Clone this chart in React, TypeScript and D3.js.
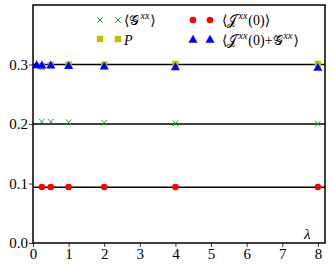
import { useEffect, useRef } from "react";
import * as d3 from "d3";

// lambda values where each quantity was measured
const LAMBDA = [0.25, 0.5, 1, 2, 4, 8];
const LAMBDA_TRI = [0.1, 0.25, 0.5, 1, 2, 4, 8];

const G_XX = [0.204, 0.204, 0.203, 0.202, 0.201, 0.2005];
const P_VAL = [0.296, 0.299, 0.3, 0.3, 0.301, 0.301];
const J_XX = [0.094, 0.094, 0.094, 0.094, 0.094, 0.094];
const J_PLUS_G = [0.3, 0.2995, 0.2995, 0.2985, 0.2975, 0.2965, 0.2955];

// horizontal reference levels
const REF_LEVELS = [0.3, 0.2, 0.0938];

const X_TICKS = [0, 1, 2, 3, 4, 5, 6, 7, 8];
const Y_TICKS = [0, 0.1, 0.2, 0.3];

const GREEN = "#1f9a1f";
const OLIVE = "#bfbf00";
const RED = "#ff0000";
const BLUE = "#0000ff";

const SERIF = "'Liberation Serif', 'DejaVu Serif', serif";

export default function App() {
  const ref = useRef<SVGSVGElement | null>(null);

  useEffect(() => {
    if (!ref.current) return;
    const W = 332, H = 265;
    const margin = { top: 5, right: 7, bottom: 22, left: 33 };
    const innerW = W - margin.left - margin.right;
    const innerH = H - margin.top - margin.bottom;

    const svg = d3.select(ref.current);
    svg.selectAll("*").remove();
    svg.attr("width", W).attr("height", H);

    const g = svg.append("g").attr("transform", `translate(${margin.left},${margin.top})`);

    const x = d3.scaleLinear().domain([0, 8.2]).range([0, innerW]);
    const y = d3.scaleLinear().domain([0, 0.4]).range([innerH, 0]);

    // reference lines
    for (const v of REF_LEVELS) {
      g.append("line")
        .attr("x1", 0).attr("x2", innerW)
        .attr("y1", y(v)).attr("y2", y(v))
        .attr("stroke", "#000").attr("stroke-width", 1.5);
    }

    // axes
    const xa = g.append("g").attr("transform", `translate(0,${innerH})`)
      .call(d3.axisBottom(x).tickValues(X_TICKS).tickFormat(d3.format("d")).tickSize(4).tickSizeOuter(0));
    const ya = g.append("g")
      .call(d3.axisLeft(y).tickValues(Y_TICKS).tickFormat(d3.format(".1f")).tickSize(4).tickSizeOuter(0));
    for (const a of [xa, ya]) {
      a.select(".domain").remove();
      a.selectAll("line").attr("stroke", "#000").attr("stroke-width", 0.8);
      a.selectAll("text").attr("font-family", SERIF).attr("font-size", 15).attr("fill", "#000");
    }
    xa.selectAll("text").attr("dy", "0.72em").attr("y", 5);
    ya.selectAll("text").attr("x", -5);

    // frame
    g.append("rect").attr("x", 0).attr("y", 0).attr("width", innerW).attr("height", innerH)
      .attr("fill", "none").attr("stroke", "#000").attr("stroke-width", 1.5);

    const sym = {
      cross: d3.symbol().type(d3.symbolX).size(22),
      square: d3.symbol().type(d3.symbolSquare).size(40),
      circle: d3.symbol().type(d3.symbolCircle).size(34),
      tri: d3.symbol().type(d3.symbolTriangle).size(36),
    };

    const drawCross = (sel: any, cx: number, cy: number) =>
      sel.append("path").attr("d", sym.cross()).attr("transform", `translate(${cx},${cy})`)
        .attr("fill", "none").attr("stroke", GREEN).attr("stroke-width", 1);
    const drawFilled = (sel: any, gen: any, color: string, cx: number, cy: number) =>
      sel.append("path").attr("d", gen()).attr("transform", `translate(${cx},${cy})`).attr("fill", color);

    LAMBDA.forEach((l, i) => drawCross(g, x(l), y(G_XX[i])));
    LAMBDA.forEach((l, i) => drawFilled(g, sym.square, OLIVE, x(l), y(P_VAL[i])));
    LAMBDA.forEach((l, i) => drawFilled(g, sym.circle, RED, x(l), y(J_XX[i])));
    LAMBDA_TRI.forEach((l, i) => drawFilled(g, sym.tri, BLUE, x(l), y(J_PLUS_G[i]) + 1));

    // legend
    const leg = svg.append("g");
    const addLabel = (lx: number, ly: number, parts: [string, "n" | "i" | "s"][]) => {
      const t = leg.append("text").attr("x", lx).attr("y", ly + 5)
        .attr("font-family", SERIF).attr("font-size", 14).attr("fill", "#000");
      let sup = false;
      for (const [s, kind] of parts) {
        const ts = t.append("tspan").text(s);
        if (kind === "i") ts.attr("font-style", "italic");
        if (kind === "s") {
          ts.attr("font-size", 10).attr("font-style", "italic").attr("dy", -6).attr("dx", 1);
          sup = true;
        } else if (sup) {
          ts.attr("dy", 6).attr("dx", 1);
          sup = false;
        }
      }
    };
    drawCross(leg, 100, 20); drawCross(leg, 118, 20);
    addLabel(124, 20, [["⟨", "n"], ["𝒢", "n"], ["xx", "s"], ["⟩", "n"]]);
    drawFilled(leg, sym.square, OLIVE, 100, 39); drawFilled(leg, sym.square, OLIVE, 118, 39);
    addLabel(124, 40, [["P", "i"]]);
    drawFilled(leg, sym.circle, RED, 193, 20); drawFilled(leg, sym.circle, RED, 210, 20);
    addLabel(222, 20, [["⟨", "n"], ["𝒥", "n"], ["xx", "s"], ["(0)⟩", "n"]]);
    drawFilled(leg, sym.tri, BLUE, 193, 40); drawFilled(leg, sym.tri, BLUE, 210, 40);
    addLabel(222, 40, [["⟨", "n"], ["𝒥", "n"], ["xx", "s"], ["(0)+", "n"], ["𝒢", "n"], ["xx", "s"], ["⟩", "n"]]);

    // lambda label inside the frame
    svg.append("text").attr("x", 304).attr("y", 239)
      .attr("font-family", SERIF).attr("font-size", 15).attr("font-style", "italic").text("λ");
  }, []);

  return <svg ref={ref} style={{ position: "absolute", left: 0, top: 0, display: "block" }} />;
}
